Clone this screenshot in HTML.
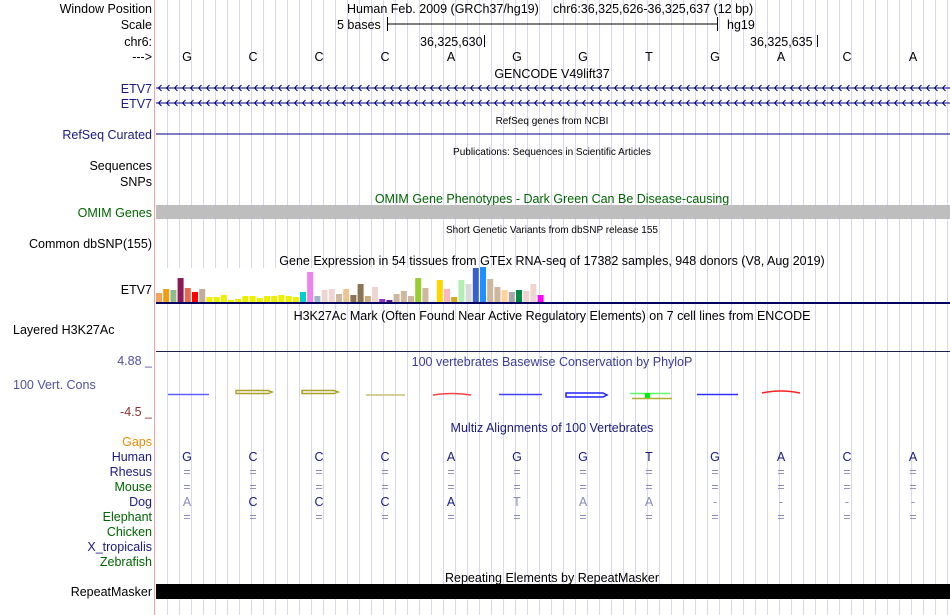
<!DOCTYPE html>
<html><head><meta charset="utf-8"><style>
html,body{margin:0;padding:0;background:#fff;}
svg{display:block;font-family:"Liberation Sans",sans-serif;}
</style></head><body>
<svg width="950" height="615" viewBox="0 0 950 615" xmlns="http://www.w3.org/2000/svg">
<defs>
<pattern id="grid" x="156" y="0" width="12" height="615" patternUnits="userSpaceOnUse">
<rect x="11" y="0" width="1" height="615" fill="#d6d6f6"/>
</pattern>
<pattern id="chev1" x="157" y="83" width="8" height="10" patternUnits="userSpaceOnUse">
<path d="M4.5,2 L1.5,5 L4.5,8" fill="none" stroke="#000080" stroke-width="1"/>
</pattern>
<pattern id="chev2" x="157" y="98" width="8" height="10" patternUnits="userSpaceOnUse">
<path d="M4.5,2 L1.5,5 L4.5,8" fill="none" stroke="#000080" stroke-width="1"/>
</pattern>
</defs>
<rect x="0" y="0" width="950" height="615" fill="#fff"/>
<rect x="156" y="0" width="794" height="615" fill="url(#grid)"/>
<rect x="154" y="0" width="1" height="615" fill="#f7a0a0"/>

<g font-size="12.5" fill="#000" text-anchor="end">
<text x="152" y="13">Window Position</text>
<text x="152" y="29">Scale</text>
<text x="152" y="46">chr6:</text>
<text x="152" y="61">---&gt;</text>
<text x="152" y="93" fill="#1a1a80">ETV7</text>
<text x="152" y="108" fill="#1a1a80">ETV7</text>
<text x="152" y="139" fill="#1a1a80">RefSeq Curated</text>
<text x="152" y="170">Sequences</text>
<text x="152" y="186">SNPs</text>
<text x="152" y="217" fill="#006400">OMIM Genes</text>
<text x="152" y="248">Common dbSNP(155)</text>
<text x="152" y="294">ETV7</text>
<text x="152" y="365" fill="#5050a0">4.88 _</text>
<text x="152" y="416" fill="#8b3030">-4.5 _</text>
<text x="152" y="446" fill="#ee8a00">Gaps</text>
<text x="152" y="461" fill="#1a1a80">Human</text>
<text x="152" y="476" fill="#1a1a80">Rhesus</text>
<text x="152" y="491" fill="#006400">Mouse</text>
<text x="152" y="506" fill="#1a1a80">Dog</text>
<text x="152" y="521" fill="#006400">Elephant</text>
<text x="152" y="536" fill="#006400">Chicken</text>
<text x="152" y="551" fill="#1a1a80">X_tropicalis</text>
<text x="152" y="566" fill="#006400">Zebrafish</text>
<text x="152" y="596">RepeatMasker</text>
</g>
<text x="13" y="334" font-size="12.5">Layered H3K27Ac</text>
<text x="13" y="389" font-size="12.5" fill="#5050a0">100 Vert. Cons</text>

<g font-size="12.5" fill="#000">
<text x="347" y="13">Human Feb. 2009 (GRCh37/hg19)</text>
<text x="553" y="13">chr6:36,325,626-36,325,637 (12 bp)</text>
<text x="337" y="29">5 bases</text>
<text x="727" y="29">hg19</text>
<text x="420" y="46">36,325,630</text>
<text x="750" y="46">36,325,635</text>
</g>
<path d="M387.5,17 V31 M387.5,24 H717 M717.5,17 V31 M484.5,35 V47 M817.5,35 V47" stroke="#000" stroke-width="1"/>

<g font-size="12.5" fill="#000" text-anchor="middle">
<text x="187" y="61">G</text><text x="253" y="61">C</text><text x="319" y="61">C</text><text x="385" y="61">C</text>
<text x="451" y="61">A</text><text x="517" y="61">G</text><text x="583" y="61">G</text><text x="649" y="61">T</text>
<text x="715" y="61">G</text><text x="781" y="61">A</text><text x="847" y="61">C</text><text x="913" y="61">A</text>
</g>

<text x="552" y="78" font-size="12.5" text-anchor="middle">GENCODE V49lift37</text>
<rect x="156" y="83" width="794" height="10" fill="url(#chev1)"/>
<rect x="156" y="87.5" width="794" height="1" fill="#000080"/>
<rect x="156" y="98" width="794" height="10" fill="url(#chev2)"/>
<rect x="156" y="102.5" width="794" height="1" fill="#000080"/>
<text x="552" y="124" font-size="10" text-anchor="middle">RefSeq genes from NCBI</text>
<rect x="156" y="133.5" width="794" height="1" fill="#000080"/>
<text x="552" y="155" font-size="10" text-anchor="middle">Publications: Sequences in Scientific Articles</text>
<text x="552" y="203" font-size="12.5" fill="#006400" text-anchor="middle">OMIM Gene Phenotypes - Dark Green Can Be Disease-causing</text>
<rect x="156" y="205" width="794" height="14" fill="#bebebe"/>
<text x="552" y="233" font-size="10" text-anchor="middle">Short Genetic Variants from dbSNP release 155</text>
<text x="552" y="265" font-size="12.5" text-anchor="middle">Gene Expression in 54 tissues from GTEx RNA-seq of 17382 samples, 948 donors (V8, Aug 2019)</text>
<rect x="156" y="268" width="380" height="34" fill="#fff"/>
<rect x="156" y="302" width="794" height="2" fill="#000060"/>
<text x="552" y="320" font-size="12.5" text-anchor="middle">H3K27Ac Mark (Often Found Near Active Regulatory Elements) on 7 cell lines from ENCODE</text>
<rect x="156" y="351" width="794" height="1" fill="#202050"/>
<text x="552" y="366" font-size="12.5" fill="#3a3a9a" text-anchor="middle">100 vertebrates Basewise Conservation by PhyloP</text>

<g stroke-width="1.5" fill="none">
<path d="M168,394.5 H209" stroke="#6060ff"/>
<path d="M236,390.5 H268 L272,392 L268,393.5 H236 Z" stroke="#a8a020"/>
<path d="M302,390.5 H334 L338,392 L334,393.5 H302 Z" stroke="#a8a020"/>
<path d="M366,395 H405" stroke="#c8c070"/>
<path d="M433,395 Q452,392 471,395" stroke="#ff4040"/>
<path d="M499,394.5 H542" stroke="#4040ff"/>
<path d="M566,393 H603 L607,395 L603,397 H566 Z" stroke="#2020ff"/>
<path d="M632,398.5 H672" stroke="#b0b030"/>
<path d="M630,393.5 H670" stroke="#60ff60"/>
<rect x="645" y="393" width="5" height="5" fill="#00ee00" stroke="none"/>
<path d="M697,394.5 H738" stroke="#3030ff"/>
<path d="M762,393 Q781,389 800,393" stroke="#ff2020"/>
</g>

<text x="552" y="432" font-size="12.5" fill="#1a1a80" text-anchor="middle">Multiz Alignments of 100 Vertebrates</text>
<g font-size="12.5" text-anchor="middle">
<g fill="#1a1a80">
<text x="187" y="461">G</text><text x="253" y="461">C</text><text x="319" y="461">C</text><text x="385" y="461">C</text>
<text x="451" y="461">A</text><text x="517" y="461">G</text><text x="583" y="461">G</text><text x="649" y="461">T</text>
<text x="715" y="461">G</text><text x="781" y="461">A</text><text x="847" y="461">C</text><text x="913" y="461">A</text>
</g>
<g fill="#8a8ab8">
<text x="187" y="476">=</text><text x="253" y="476">=</text><text x="319" y="476">=</text><text x="385" y="476">=</text><text x="451" y="476">=</text><text x="517" y="476">=</text><text x="583" y="476">=</text><text x="649" y="476">=</text><text x="715" y="476">=</text><text x="781" y="476">=</text><text x="847" y="476">=</text><text x="913" y="476">=</text>
<text x="187" y="491">=</text><text x="253" y="491">=</text><text x="319" y="491">=</text><text x="385" y="491">=</text><text x="451" y="491">=</text><text x="517" y="491">=</text><text x="583" y="491">=</text><text x="649" y="491">=</text><text x="715" y="491">=</text><text x="781" y="491">=</text><text x="847" y="491">=</text><text x="913" y="491">=</text>
<text x="187" y="521">=</text><text x="253" y="521">=</text><text x="319" y="521">=</text><text x="385" y="521">=</text><text x="451" y="521">=</text><text x="517" y="521">=</text><text x="583" y="521">=</text><text x="649" y="521">=</text><text x="715" y="521">=</text><text x="781" y="521">=</text><text x="847" y="521">=</text><text x="913" y="521">=</text>
<text x="187" y="506">A</text><text x="517" y="506">T</text><text x="583" y="506">A</text><text x="649" y="506">A</text>
<text x="715" y="506">-</text><text x="781" y="506">-</text><text x="847" y="506">-</text><text x="913" y="506">-</text>
</g>
<g fill="#1a1a80">
<text x="253" y="506">C</text><text x="319" y="506">C</text><text x="385" y="506">C</text><text x="451" y="506">A</text>
</g>
</g>
<text x="552" y="582" font-size="12.5" text-anchor="middle">Repeating Elements by RepeatMasker</text>
<rect x="156" y="584" width="794" height="15" fill="#000"/>

<g>
<rect x="156.0" y="293" width="6" height="9" fill="#f4a460"/>
<rect x="163.2" y="289" width="6" height="13" fill="#f39c12"/>
<rect x="170.4" y="290" width="6" height="12" fill="#8fbc8f"/>
<rect x="177.6" y="278" width="6" height="24" fill="#8b1a5a"/>
<rect x="184.8" y="288" width="6" height="14" fill="#e9694f"/>
<rect x="192.0" y="292" width="6" height="10" fill="#ff0000"/>
<rect x="199.2" y="289" width="6" height="13" fill="#c4ab9a"/>
<rect x="206.4" y="297" width="6" height="5" fill="#eeee00"/>
<rect x="213.6" y="297" width="6" height="5" fill="#eeee00"/>
<rect x="220.8" y="295" width="6" height="7" fill="#eeee00"/>
<rect x="228.0" y="300" width="6" height="2" fill="#eeee00"/>
<rect x="235.2" y="299" width="6" height="3" fill="#eeee00"/>
<rect x="242.4" y="296" width="6" height="6" fill="#eeee00"/>
<rect x="249.6" y="296" width="6" height="6" fill="#eeee00"/>
<rect x="256.8" y="298" width="6" height="4" fill="#eeee00"/>
<rect x="264.0" y="296" width="6" height="6" fill="#eeee00"/>
<rect x="271.2" y="296" width="6" height="6" fill="#eeee00"/>
<rect x="278.4" y="295" width="6" height="7" fill="#eeee00"/>
<rect x="285.6" y="296" width="6" height="6" fill="#eeee00"/>
<rect x="292.8" y="297" width="6" height="5" fill="#eeee00"/>
<rect x="300.0" y="292" width="6" height="10" fill="#00ced1"/>
<rect x="307.2" y="272" width="6" height="30" fill="#ee82ee"/>
<rect x="314.4" y="296" width="6" height="6" fill="#9fb6cd"/>
<rect x="321.6" y="290" width="6" height="12" fill="#eed5d2"/>
<rect x="328.8" y="289" width="6" height="13" fill="#eed5d2"/>
<rect x="336.0" y="294" width="6" height="8" fill="#cdb79e"/>
<rect x="343.2" y="289" width="6" height="13" fill="#eec591"/>
<rect x="350.4" y="295" width="6" height="7" fill="#8b7355"/>
<rect x="357.6" y="284" width="6" height="18" fill="#8b7355"/>
<rect x="364.8" y="296" width="6" height="6" fill="#cdaa7d"/>
<rect x="372.0" y="287" width="6" height="15" fill="#eed5d2"/>
<rect x="379.2" y="299" width="6" height="3" fill="#9932cc"/>
<rect x="386.4" y="300" width="6" height="2" fill="#551a8b"/>
<rect x="393.6" y="294" width="6" height="8" fill="#cdb79e"/>
<rect x="400.8" y="291" width="6" height="11" fill="#cdb79e"/>
<rect x="408.0" y="296" width="6" height="6" fill="#cdb79e"/>
<rect x="415.2" y="278" width="6" height="24" fill="#9acd32"/>
<rect x="422.4" y="288" width="6" height="14" fill="#cdb79e"/>
<rect x="429.6" y="300" width="6" height="2" fill="#eeeeee"/>
<rect x="436.8" y="280" width="6" height="22" fill="#ffd700"/>
<rect x="444.0" y="289" width="6" height="13" fill="#ffb6c1"/>
<rect x="451.2" y="297" width="6" height="5" fill="#daa520"/>
<rect x="458.4" y="280" width="6" height="22" fill="#b4eeb4"/>
<rect x="465.6" y="284" width="6" height="18" fill="#d9d9d9"/>
<rect x="472.8" y="268" width="6" height="34" fill="#3a5fcd"/>
<rect x="480.0" y="267" width="6" height="35" fill="#1e90ff"/>
<rect x="487.2" y="279" width="6" height="23" fill="#cdb79e"/>
<rect x="494.4" y="287" width="6" height="15" fill="#cdb79e"/>
<rect x="501.6" y="290" width="6" height="12" fill="#ffd39b"/>
<rect x="508.8" y="292" width="6" height="10" fill="#a6a6a6"/>
<rect x="516.0" y="290" width="6" height="12" fill="#008b45"/>
<rect x="523.2" y="291" width="6" height="11" fill="#eed5d2"/>
<rect x="530.4" y="284" width="6" height="18" fill="#eed5d2"/>
<rect x="537.6" y="295" width="6" height="7" fill="#ff00ff"/>
</g>
</svg>
</body></html>
